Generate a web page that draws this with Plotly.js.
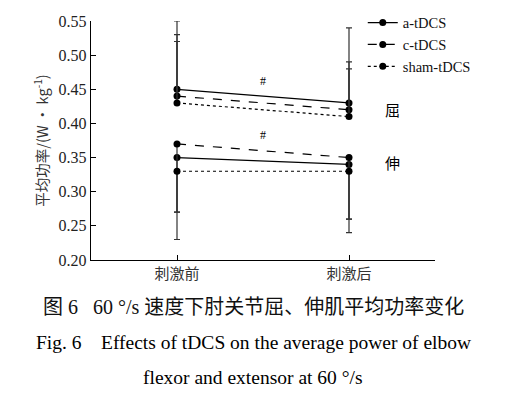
<!DOCTYPE html>
<html><head><meta charset="utf-8">
<script src="https://cdn.plot.ly/plotly-3.0.1.min.js"></script>
<style>body{margin:0;background:#fff}#c{width:505px;height:393px}</style>
</head><body><div id="c"></div>
<script>
const xCats = [0, 1];
const tickLabels = ['刺激前', '刺激后'];
const seriesNames = ['a-tDCS', 'c-tDCS', 'sham-tDCS'];
const dashes = ['solid', 'dash', 'dot'];
// flexor (屈)
const flexMean = [[0.45, 0.43], [0.44, 0.42], [0.43, 0.41]];
const flexErrUp = [[0.10, 0.11], [0.09, 0.07], [0.09, 0.07]];
// extensor (伸)
const extMean = [[0.35, 0.34], [0.37, 0.35], [0.33, 0.33]];
const extErrDown = [[0.12, 0.10], [0.10, 0.09], [0.06, 0.07]];

const serif = 'Liberation Serif';
const traces = [];
for (let i = 0; i < 3; i++) {
  traces.push({
    x: xCats, y: flexMean[i], mode: 'lines+markers', name: seriesNames[i],
    legendgroup: 'g' + i, showlegend: true,
    line: {color: '#000', width: 1.2, dash: dashes[i]},
    marker: {color: '#000', size: 7},
    error_y: {type: 'data', symmetric: false, array: flexErrUp[i], arrayminus: [0, 0],
      color: '#333', thickness: 1.2, width: 3}
  });
  traces.push({
    x: xCats, y: extMean[i], mode: 'lines+markers', name: seriesNames[i],
    legendgroup: 'g' + i, showlegend: false,
    line: {color: '#000', width: 1.2, dash: dashes[i]},
    marker: {color: '#000', size: 7},
    error_y: {type: 'data', symmetric: false, array: [0, 0], arrayminus: extErrDown[i],
      color: '#333', thickness: 1.2, width: 3}
  });
}
const layout = {
  width: 505, height: 393,
  margin: {l: 91, r: 70, t: 21, b: 133, autoexpand: false},
  paper_bgcolor: '#fff', plot_bgcolor: '#fff',
  font: {family: serif, color: '#000', size: 14},
  showlegend: true,
  legend: {x: 0.79, y: 1.06, xanchor: 'left', yanchor: 'top', bgcolor: 'rgba(0,0,0,0)',
    font: {family: serif, size: 14.5, color: '#111'}, tracegroupgap: 0, itemwidth: 30},
  xaxis: {range: [-0.5, 1.5], tickvals: [0, 1, 1.5], ticktext: tickLabels.concat(['']),
    showline: true, linecolor: '#000', linewidth: 1.2, ticks: 'inside', ticklen: 5,
    tickcolor: '#000', showgrid: false, zeroline: false, automargin: false,
    tickfont: {family: 'Noto Sans CJK SC', size: 15, color: '#333'}},
  yaxis: {range: [0.2, 0.55], dtick: 0.05, tickformat: '.2f',
    showline: true, linecolor: '#000', linewidth: 1.2, ticks: 'inside', ticklen: 5,
    tickcolor: '#000', showgrid: false, zeroline: false, automargin: false,
    tickfont: {family: serif, size: 16, color: '#222'},
    title: {text: '平均功率/(W • kg<sup>-1</sup>)', standoff: 6,
      font: {family: 'Noto Sans CJK SC', size: 14.5, color: '#333'}}},
  annotations: [
    {xref: 'x', yref: 'y', x: 0.5, y: 0.462, text: '#', showarrow: false, font: {size: 12}},
    {xref: 'x', yref: 'y', x: 0.5, y: 0.383, text: '#', showarrow: false, font: {size: 12}},
    {xref: 'x', yref: 'y', x: 1.25, y: 0.42, text: '屈', showarrow: false,
      font: {family: 'Noto Sans CJK SC', size: 15, color: '#000'}},
    {xref: 'x', yref: 'y', x: 1.25, y: 0.343, text: '伸', showarrow: false,
      font: {family: 'Noto Sans CJK SC', size: 15, color: '#000'}},
    {xref: 'paper', yref: 'paper', x: 0.472, y: -0.195, yanchor: 'middle', xanchor: 'center',
      text: '图 6\u00a0\u00a0\u00a060 °/s 速度下肘关节屈、伸肌平均功率变化', showarrow: false,
      font: {family: 'Liberation Serif, Noto Sans CJK SC', size: 20, color: '#111'}},
    {xref: 'paper', yref: 'paper', x: 0.472, y: -0.345, yanchor: 'middle', xanchor: 'center',
      text: 'Fig. 6\u00a0\u00a0\u00a0\u00a0Effects of tDCS on the average power of elbow', showarrow: false,
      font: {family: serif, size: 19.5, color: '#000'}},
    {xref: 'paper', yref: 'paper', x: 0.472, y: -0.49, yanchor: 'middle', xanchor: 'center',
      text: 'flexor and extensor at 60 °/s', showarrow: false,
      font: {family: serif, size: 19.5, color: '#000'}}
  ]
};
Plotly.newPlot('c', traces, layout, {displayModeBar: false, staticPlot: true});
</script></body></html>
